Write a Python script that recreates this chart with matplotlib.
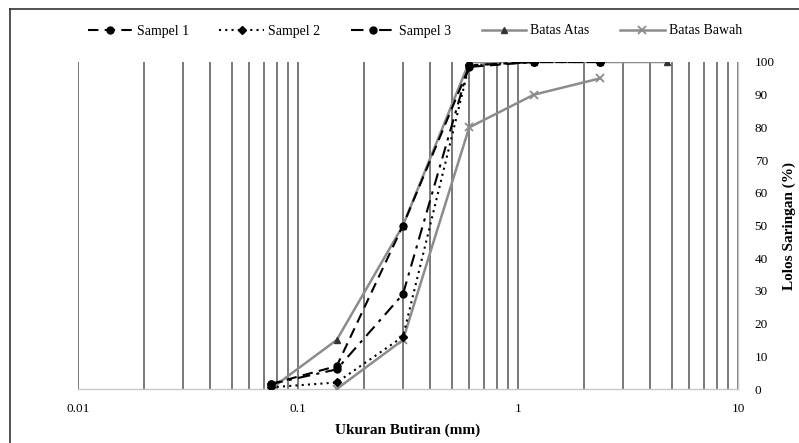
import numpy as np
import matplotlib.pyplot as plt
from matplotlib.lines import Line2D

# ukuran saringan (mm) dan persen lolos
sieve = [0.075, 0.15, 0.3, 0.6, 1.18, 2.36]
sampel_1 = [1.5, 7.0, 50.0, 98.5, 100, 100]
sampel_2 = [0.5, 2.0, 16.0, 99.0, 100, 100]
sampel_3 = [1.5, 6.0, 29.0, 99.0, 100, 100]

sieve_atas = [0.075, 0.15, 0.3, 0.6, 1.18, 2.36, 4.75]
batas_atas = [0, 15, 50, 100, 100, 100, 100]
sieve_bawah = [0.15, 0.3, 0.6, 1.18, 2.36]
batas_bawah = [0, 15, 80, 90, 95]

x_ticks = [0.01, 0.1, 1, 10]
x_ticklabels = ["0.01", "0.1", "1", "10"]
y_ticks = list(range(0, 101, 10))

plt.rcParams['font.family'] = ['Liberation Serif', 'DejaVu Serif']

fig = plt.figure(figsize=(7.99, 4.43), dpi=100)
ax = fig.add_axes([78 / 799, 1 - 389 / 443, (738 - 78) / 799, (389 - 62) / 443])

# garis grid vertikal (log)
grid_x = [m * 10.0 ** e for e in range(-2, 1) for m in range(1, 10)] + [10]
for gx in grid_x:
    ax.axvline(gx, color='#555555', lw=1.1, zorder=1)

gray = '#8c8c8c'
ax.plot(sieve, sampel_1, color='black', ls=(0, (5, 3)), lw=1.5,
        marker='o', ms=5, label='Sampel 1', zorder=4)
ax.plot(sieve, sampel_2, color='black', ls=(0, (1, 2)), lw=1.5,
        marker='D', ms=4, label='Sampel 2', zorder=4)
ax.plot(sieve, sampel_3, color='black', ls=(0, (6, 3, 1.5, 3)), lw=1.5,
        marker='o', ms=5, label='Sampel 3', zorder=4)
ax.plot(sieve_atas, batas_atas, color=gray, lw=1.8,
        marker='^', ms=4, mfc='#333333', mec='#333333', label='Batas Atas', zorder=3)
ax.plot(sieve_bawah, batas_bawah, color=gray, lw=1.8,
        marker='x', ms=6, mew=1.3, label='Batas Bawah', zorder=3)

ax.set_xscale('log')
ax.set_xlim(0.01, 10)
ax.set_ylim(0, 100)
ax.set_xticks(x_ticks)
ax.set_xticklabels(x_ticklabels)
ax.xaxis.set_minor_locator(plt.NullLocator())
ax.set_yticks(y_ticks)
ax.yaxis.tick_right()
ax.yaxis.set_label_position('right')
ax.tick_params(axis='both', length=0, labelsize=9.5, pad=10)
ax.tick_params(axis='y', pad=12)

for side in ['top', 'left']:
    ax.spines[side].set_visible(False)
for side in ['bottom', 'right']:
    ax.spines[side].set_color('#c8c8c8')
    ax.spines[side].set_linewidth(1)

ax.set_xlabel('Ukuran Butiran (mm)', fontsize=11, fontweight='bold', labelpad=6)
ax.set_ylabel('Lolos Saringan (%)', fontsize=11, fontweight='bold', labelpad=6)

fig.legend(loc='center', bbox_to_anchor=(415 / 799, 1 - 31 / 443), ncol=5,
           frameon=False, fontsize=10, handlelength=3.2, columnspacing=2.2,
           handletextpad=0.3)

# bingkai gambar (kiri & atas)
fig.add_artist(Line2D([10 / 799, 10 / 799], [0, 1 - 9 / 443], color='#333333',
                      lw=1.2, transform=fig.transFigure))
fig.add_artist(Line2D([10 / 799, 1], [1 - 9 / 443, 1 - 9 / 443], color='#333333',
                      lw=1.2, transform=fig.transFigure))

fig.savefig('out.png', dpi=100)
